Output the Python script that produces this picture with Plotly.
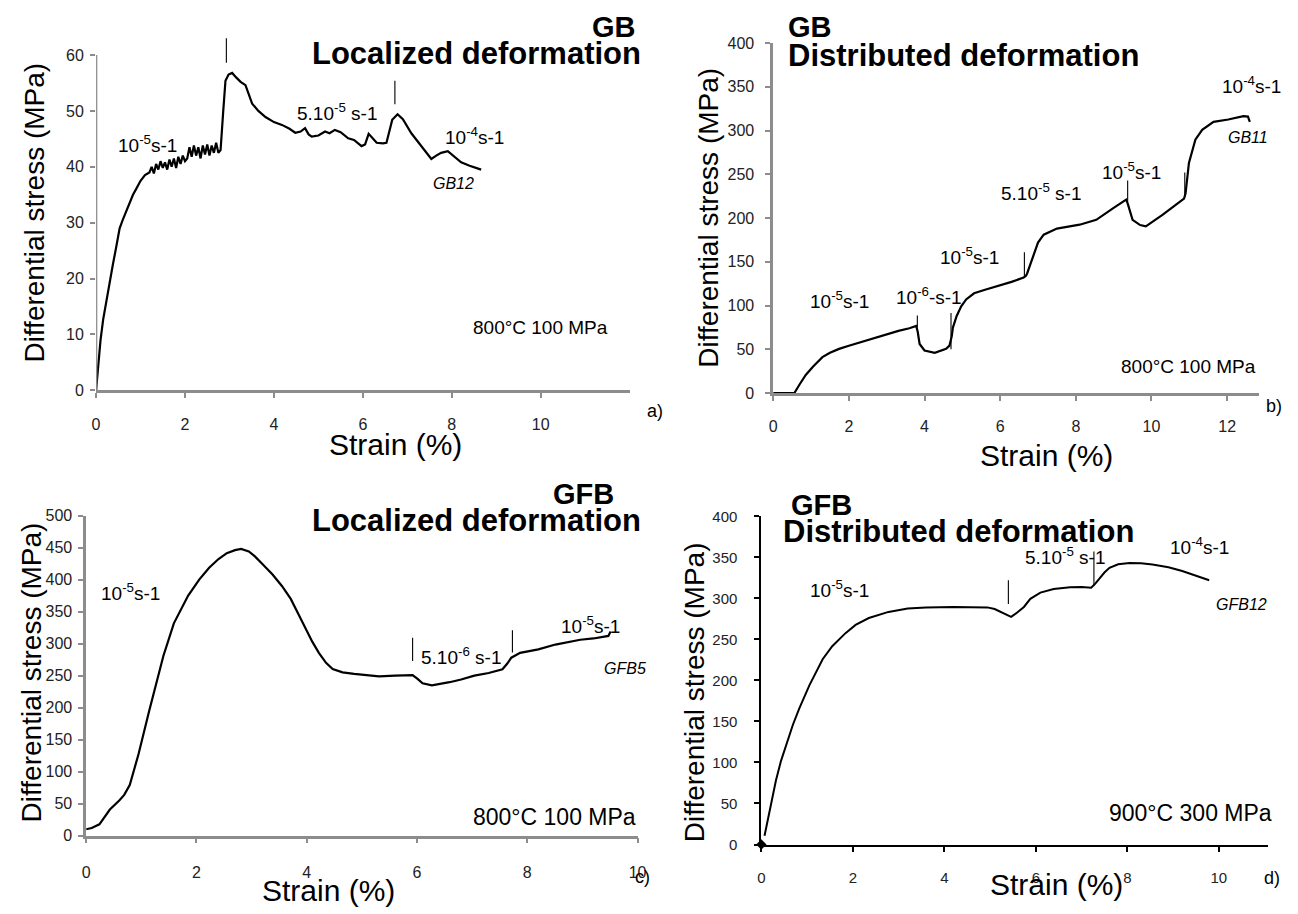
import plotly.graph_objects as go

# ---------------- data ----------------
# Panel a : GB12, localized deformation
a_strain = [0, 0.05, 0.1, 0.16, 0.25, 0.38, 0.45, 0.53, 0.6, 0.7, 0.83, 0.9, 1.0, 1.1, 1.2, 1.25, 1.3, 1.35, 1.4, 1.45,
            1.5, 1.55, 1.6, 1.65, 1.7, 1.75, 1.8, 1.85, 1.9, 1.95, 2.0, 2.05, 2.1, 2.15, 2.2, 2.25, 2.3, 2.35, 2.4, 2.45,
            2.5, 2.55, 2.6, 2.65, 2.7, 2.75, 2.8, 2.86, 2.91, 2.98, 3.06, 3.15, 3.25, 3.36, 3.45, 3.51, 3.65, 3.81, 4.0, 4.18,
            4.35, 4.48, 4.6, 4.7, 4.78, 4.85, 5.0, 5.15, 5.25, 5.37, 5.5, 5.67, 5.8, 5.97, 6.05, 6.13, 6.2, 6.31, 6.45, 6.53,
            6.6, 6.66, 6.78, 6.9, 7.09, 7.3, 7.54, 7.65, 7.76, 7.91, 8.0, 8.1, 8.21, 8.4, 8.55, 8.66]
a_stress = [0, 5, 9, 12.7, 17, 22.6, 25.5, 29, 30.5, 32.5, 35, 36, 37.5, 38.5, 39, 40, 38.8, 40.5, 39.5, 41,
            39.8, 40.8, 39.5, 41.3, 40, 41.5, 39.8, 41.8, 40.5, 42, 41, 41.5, 43.5, 41.8, 43.8, 42, 43.5, 41.5, 43.8, 42.2,
            44, 42, 43.8, 42.5, 44.3, 42.5, 43, 50, 55.4, 56.5, 56.8, 56, 55.2, 54.6, 52.5, 51.3, 50, 48.9, 48, 47.5,
            46.8, 46.1, 46.3, 46.9, 45.8, 45.4, 45.6, 46.3, 46.0, 46.6, 46.2, 45.1, 44.8, 43.7, 44.0, 45.9, 45.3, 44.3, 44.2, 44.3,
            46.5, 48.4, 49.4, 48.5, 46, 43.8, 41.4, 42.0, 42.5, 42.8, 42.2, 41.5, 40.8, 40.2, 39.8, 39.5]
a_steps = [(2.93, 58.6, 63.0), (6.72, 51.2, 55.4)]

# Panel b : GB11, distributed deformation
b_strain = [0, 0.56, 0.7, 0.86, 1.05, 1.3, 1.5, 1.74, 2.0, 2.43, 2.87, 3.31, 3.6, 3.78, 3.82, 3.87, 4.0, 4.27, 4.57, 4.66,
            4.72, 4.75, 4.85, 4.97, 5.1, 5.31, 5.6, 5.92, 6.3, 6.62, 6.68, 6.71, 6.8, 6.88, 7.0, 7.15, 7.5, 8.1, 8.54, 8.98,
            9.28, 9.33, 9.37, 9.5, 9.7, 9.85, 10.29, 10.86, 10.9, 10.99, 11.16, 11.34, 11.64, 12.03, 12.43, 12.55, 12.6]
b_stress = [0, 0, 10, 20.6, 30, 41, 46, 50.4, 54, 59.8, 65.4, 71, 74, 76.6, 70, 56, 48.6, 46, 50.4, 54.2,
            65, 74.8, 88, 99, 107, 114, 118, 122, 127, 132, 134, 136.4, 148, 158.8, 172, 181, 188, 192.4, 198, 211,
            220.4, 221, 216.7, 198, 192, 190.5, 203.6, 222.3, 228, 263, 289.6, 300.8, 310, 312.7, 316.5, 316, 310]
b_steps = [(3.81, 74.8, 88.5), (4.70, 50, 91.5), (6.64, 133, 161), (9.37, 219, 243), (10.88, 224, 252)]

# Panel c : GFB5, localized deformation
c_strain = [0, 0.1, 0.24, 0.43, 0.6, 0.69, 0.79, 0.95, 1.14, 1.4, 1.59, 1.85, 2.05, 2.23, 2.4, 2.55, 2.7, 2.81, 2.95, 3.06,
            3.2, 3.38, 3.55, 3.71, 3.85, 3.96, 4.1, 4.22, 4.35, 4.47, 4.65, 4.86, 5.1, 5.31, 5.6, 5.92, 6.01, 6.1, 6.27, 6.45,
            6.59, 6.8, 7.04, 7.3, 7.55, 7.63, 7.71, 7.87, 8.2, 8.51, 8.96, 9.2, 9.41, 9.47, 9.51]
c_stress = [10, 12, 17.8, 40.8, 55, 63.7, 79, 127.5, 193.8, 280.6, 331.6, 375, 400, 418.4, 432, 441.3, 446, 447.9, 444, 436.2,
            424, 408, 390, 369.8, 346, 326.5, 303, 285.6, 270, 260.2, 255, 252.6, 250, 248.9, 250, 250.9, 244.9, 238, 234.7, 237,
            239.7, 244, 250, 254, 260, 268, 278, 285.6, 291, 298.5, 306, 308, 311.2, 312, 318.8]
c_steps = [(5.92, 273, 309), (7.73, 286, 321)]

# Panel d : GFB12, distributed deformation
d_strain = [0.07, 0.18, 0.32, 0.43, 0.54, 0.69, 0.83, 1.05, 1.34, 1.55, 1.84, 2.06, 2.35, 2.78, 3.2, 3.6, 4.2, 4.94, 5.1, 5.23,
            5.46, 5.6, 5.74, 5.88, 6.1, 6.39, 6.75, 7.0, 7.21, 7.3, 7.4, 7.5, 7.61, 7.8, 8.05, 8.3, 8.55, 8.9, 9.2, 9.5, 9.79]
d_stress = [10.7, 42.5, 78.4, 102, 120, 146, 166, 194, 225.8, 241.7, 257.6, 267.6, 276, 283.5, 287.5, 289, 289.5, 289, 287, 283.5,
            277.5, 283, 289.5, 299.4, 307, 311.5, 313.5, 313.8, 313, 318, 325.3, 331.5, 337.2, 341.5, 343.2, 342.8, 341.2, 338, 333.3, 328, 322]
d_steps = [(5.4, 293, 322), (7.27, 315, 357)]
d_origin = ([0], [0])

a_yticks = [0, 10, 20, 30, 40, 50, 60]
b_yticks = [0, 50, 100, 150, 200, 250, 300, 350, 400]
c_yticks = [0, 50, 100, 150, 200, 250, 300, 350, 400, 450, 500]
d_yticks = [0, 50, 100, 150, 200, 250, 300, 350, 400]
a_xticks = [0, 2, 4, 6, 8, 10]
b_xticks = [0, 2, 4, 6, 8, 10, 12]
c_xticks = [0, 2, 4, 6, 8, 10]
d_xticks = [0, 2, 4, 6, 8, 10]

# ---------------- layout helpers ----------------
W, H = 1298, 914
NARROW = "Liberation Sans Narrow, Arial Narrow, Liberation Sans, Arial, sans-serif"
ARIAL = "Liberation Sans, Arial, Helvetica, sans-serif"
GRAY = "#8c8c8c"


def px(x):
    return x / W


def py(y):
    return 1 - y / H


fig = go.Figure()


def add_curve(xs, ys, n, width=2.2):
    fig.add_trace(go.Scatter(x=xs, y=ys, mode="lines", line=dict(color="black", width=width),
                             xaxis="x" + n, yaxis="y" + n, showlegend=False, hoverinfo="skip"))


def add_steps(steps, n):
    for (sx, lo, hi) in steps:
        fig.add_trace(go.Scatter(x=[sx, sx], y=[lo, hi], mode="lines", line=dict(color="black", width=1.1),
                                 xaxis="x" + n, yaxis="y" + n, showlegend=False, hoverinfo="skip"))


add_curve(a_strain, a_stress, "")
add_steps(a_steps, "")
add_curve(b_strain, b_stress, "2")
add_steps(b_steps, "2")
add_curve(c_strain, c_stress, "3")
add_steps(c_steps, "3")
add_curve(d_strain, d_stress, "4", width=2.0)
add_steps(d_steps, "4")
fig.add_trace(go.Scatter(x=d_origin[0], y=d_origin[1], mode="markers", cliponaxis=False,
                         marker=dict(symbol="diamond", size=8, color="black"),
                         xaxis="x4", yaxis="y4", showlegend=False, hoverinfo="skip"))


def xaxis(dom, rng, ticks, font, size, color, lw, standoff, anchor):
    return dict(domain=dom, range=rng, tickvals=ticks, ticktext=[str(t) for t in ticks], showgrid=False,
                zeroline=False, showline=True, linecolor=color, linewidth=lw, ticks="outside", ticklen=5,
                tickwidth=1.5, tickcolor=color, tickfont=dict(family=font, size=size, color="#222"),
                ticklabelstandoff=standoff, anchor=anchor, fixedrange=True)


def yaxis(dom, rng, ticks, font, size, color, lw, standoff, anchor, showline=True):
    return dict(domain=dom, range=rng, tickvals=ticks, ticktext=[str(t) for t in ticks], showgrid=False,
                zeroline=False, showline=showline, linecolor=color, linewidth=lw, ticks="outside", ticklen=5,
                tickwidth=1.5, tickcolor=color, tickfont=dict(family=font, size=size, color="#222"),
                ticklabelstandoff=standoff, anchor=anchor, fixedrange=True)


layout = dict(
    width=W, height=H, margin=dict(l=0, r=0, t=0, b=0), paper_bgcolor="white", plot_bgcolor="rgba(0,0,0,0)",
    xaxis=xaxis([px(93), px(632)], [0, 12], a_xticks, NARROW, 16, GRAY, 2.5, 13, "y"),
    yaxis=yaxis([py(389), py(27)], [0, 63.5], a_yticks, NARROW, 16, GRAY, 2.5, 3, "x", showline=False),
    xaxis2=xaxis([px(777), px(1268)], [0, 12.85], b_xticks, ARIAL, 16, GRAY, 2.5, 12, "y2"),
    yaxis2=yaxis([py(391.7), py(34.8)], [0, 400], b_yticks, ARIAL, 16, GRAY, 2.5, 8, "x2"),
    xaxis3=xaxis([px(83), px(640)], [0, 10], c_xticks, NARROW, 16, GRAY, 2.5, 15, "y3"),
    yaxis3=yaxis([py(843.3), py(516.7)], [0, 500], c_yticks, NARROW, 16, GRAY, 2.5, 3, "x3"),
    xaxis4=xaxis([px(765), px(1277)], [0, 11.08], d_xticks, ARIAL, 15, "black", 2, 13, "y4"),
    yaxis4=yaxis([py(852.3), py(517.5)], [0, 400], d_yticks, ARIAL, 15, "black", 2, 14, "x4"),
)
fig.update_layout(**layout)

# y-axis line for panel a (stops at 60)
fig.add_shape(type="line", xref="x", yref="y", x0=0, x1=0, y0=0, y1=60, line=dict(color=GRAY, width=2.5))

ann = []


def text(x, y, s, size=19, font=ARIAL, xanchor="center", bold=False, italic=False, angle=0, color="black"):
    if bold:
        s = "<b>" + s + "</b>"
    if italic:
        s = "<i>" + s + "</i>"
    ann.append(dict(x=px(x), y=py(y), xref="paper", yref="paper", text=s, showarrow=False, xanchor=xanchor,
                    yanchor="middle", textangle=angle, font=dict(family=font, size=size, color=color)))


R5 = "10<sup>-5</sup>s-1"
R4 = "10<sup>-4</sup>s-1"
R6 = "10<sup>-6</sup>-s-1"
R55 = "5.10<sup>-5</sup> s-1"
R56 = "5.10<sup>-6</sup> s-1"
YT = "Differential stress (MPa)"
XT = "Strain (%)"
YTS = 28
XTS = 30

# panel a
text(640, 18, "GB", 29, NARROW, "right", bold=True)
text(645, 45, "Localized deformation", 31, NARROW, "right", bold=True)
text(31, 208, YT, YTS, angle=-90)
text(395, 444, XT, XTS)
text(145, 138, R5)
text(337, 105, R55)
text(475, 130, R4)
text(454, 178, "GB12", 16, italic=True)
text(542, 325, "800°C 100 MPa", 19, NARROW)
text(658, 410, "a)", 18)

# panel b
text(790, 18, "GB", 29, NARROW, "left", bold=True)
text(790, 47, "Distributed deformation", 31, NARROW, "left", bold=True)
text(712, 213, YT, YTS, angle=-90)
text(1053, 455, XT, XTS)
text(844, 297, R5)
text(934, 293, R6)
text(975, 252, R5)
text(1048, 187, R55)
text(1139, 165, R5)
text(1260, 78, R4)
text(1257, 131, "GB11", 16, italic=True)
text(1196, 365, "800°C 100 MPa", 19)
text(1283, 405, "b)", 18)

# panel c
text(618, 495, "GFB", 29, NARROW, "right", bold=True)
text(645, 522, "Localized deformation", 31, NARROW, "right", bold=True)
text(28, 677, YT, YTS, angle=-90)
text(328, 899, XT, XTS)
text(128, 595, R5)
text(462, 660, R56)
text(592, 628, R5)
text(627, 673, "GFB5", 16, italic=True)
text(556, 824, "800°C 100 MPa", 23)
text(645, 885, "c)", 18)

# panel d
text(826, 506, "GFB", 29, NARROW, "center", bold=True)
text(785, 533, "Distributed deformation", 31, NARROW, "left", bold=True)
text(697, 697, YT, YTS, angle=-90)
text(1063, 893, XT, XTS)
text(844, 592, R5)
text(1072, 558, R55)
text(1208, 548, R4)
text(1250, 607, "GFB12", 16, italic=True)
text(1199, 820, "900°C 300 MPa", 23)
text(1281, 886, "d)", 18)

fig.update_layout(annotations=ann)

fig.write_html("out.html", config={"displayModeBar": False},
               post_script="document.body.style.margin='0';document.body.style.overflow='hidden';")
